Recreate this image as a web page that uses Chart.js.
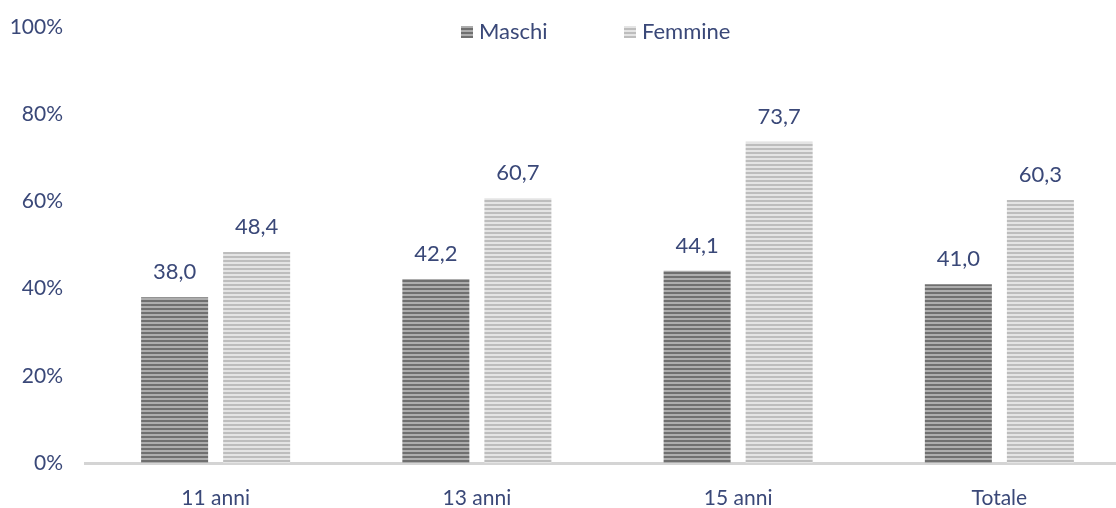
<!DOCTYPE html>
<html>
<head>
<meta charset="utf-8">
<script src="https://cdn.jsdelivr.net/npm/chart.js@4/dist/chart.umd.min.js"></script>
<style>
  html, body { margin: 0; padding: 0; background: #fff; overflow: hidden; }
  #wrap { width: 1130px; height: 508px; }
</style>
</head>
<body>
<div id="wrap"><canvas id="chart"></canvas></div>
<script>
const categories = ['11 anni', '13 anni', '15 anni', 'Totale'];
const seriesNames = ['Maschi', 'Femmine'];
const maschi = [38.0, 42.2, 44.1, 41.0];
const femmine = [48.4, 60.7, 73.7, 60.3];
const yTicks = [0, 20, 40, 60, 80, 100];

const TEXT = '#3a4878';
const FONT = "'Lato', 'Open Sans', sans-serif";

function stripes(dark, light) {
    const c = document.createElement('canvas');
    c.width = 4; c.height = 4;
    const g = c.getContext('2d');
    g.fillStyle = light; g.fillRect(0, 0, 4, 4);
    g.fillStyle = dark; g.fillRect(0, 0, 4, 2);
    return g.createPattern(c, 'repeat');
}

const darkPat = stripes('#6f6f6f', '#adadad');
const lightPat = stripes('#bdbdbd', '#e4e4e4');

const labelPlugin = {
    id: 'barLabels',
    afterDatasetsDraw(chart) {
        const ctx = chart.ctx;
        ctx.save();
        ctx.font = '22px ' + FONT;
        ctx.fillStyle = TEXT;
        ctx.textAlign = 'center';
        ctx.textBaseline = 'middle';
        chart.data.datasets.forEach((ds, i) => {
            chart.getDatasetMeta(i).data.forEach((bar, j) => {
                ctx.fillText(ds.data[j].toFixed(1).replace('.', ','), bar.x, bar.y - 25);
            });
        });
        // legend
        const items = [[461, darkPat, seriesNames[0]], [624, lightPat, seriesNames[1]]];
        ctx.textAlign = 'left';
        items.forEach(([x, pat, name]) => {
            ctx.fillStyle = pat;
            ctx.fillRect(x, 26, 12, 12);
            ctx.fillStyle = TEXT;
            ctx.fillText(name, x + 18, 32);
        });
        ctx.restore();
    }
};

new Chart(document.getElementById('chart'), {
    type: 'bar',
    data: {
        labels: categories,
        datasets: [
            { label: seriesNames[0], data: maschi, backgroundColor: darkPat, categoryPercentage: 0.628, barPercentage: 0.817 },
            { label: seriesNames[1], data: femmine, backgroundColor: lightPat, categoryPercentage: 0.628, barPercentage: 0.817 }
        ]
    },
    options: {
        responsive: true,
        maintainAspectRatio: false,
        animation: false,
        layout: { padding: { top: 27, right: 0, bottom: 0, left: 0 } },
        plugins: {
            legend: { display: false },
            tooltip: { enabled: false }
        },
        scales: {
            x: {
                grid: { display: false, drawTicks: false },
                border: { display: true, color: '#d4d4d4', width: 3 },
                ticks: { color: TEXT, font: { family: FONT, size: 21 }, padding: 23 },
                afterFit: s => { s.height = 45; }
            },
            y: {
                min: 0,
                max: 100,
                grid: { display: false, drawTicks: false },
                border: { display: false },
                ticks: {
                    color: TEXT,
                    font: { family: FONT, size: 21 },
                    padding: 22,
                    stepSize: 20,
                    callback: v => yTicks.includes(v) ? v + '%' : ''
                },
                afterFit: s => { s.width = 85; s.paddingTop = 0; s.paddingBottom = 0; }
            }
        }
    },
    plugins: [labelPlugin]
});
</script>
</body>
</html>
